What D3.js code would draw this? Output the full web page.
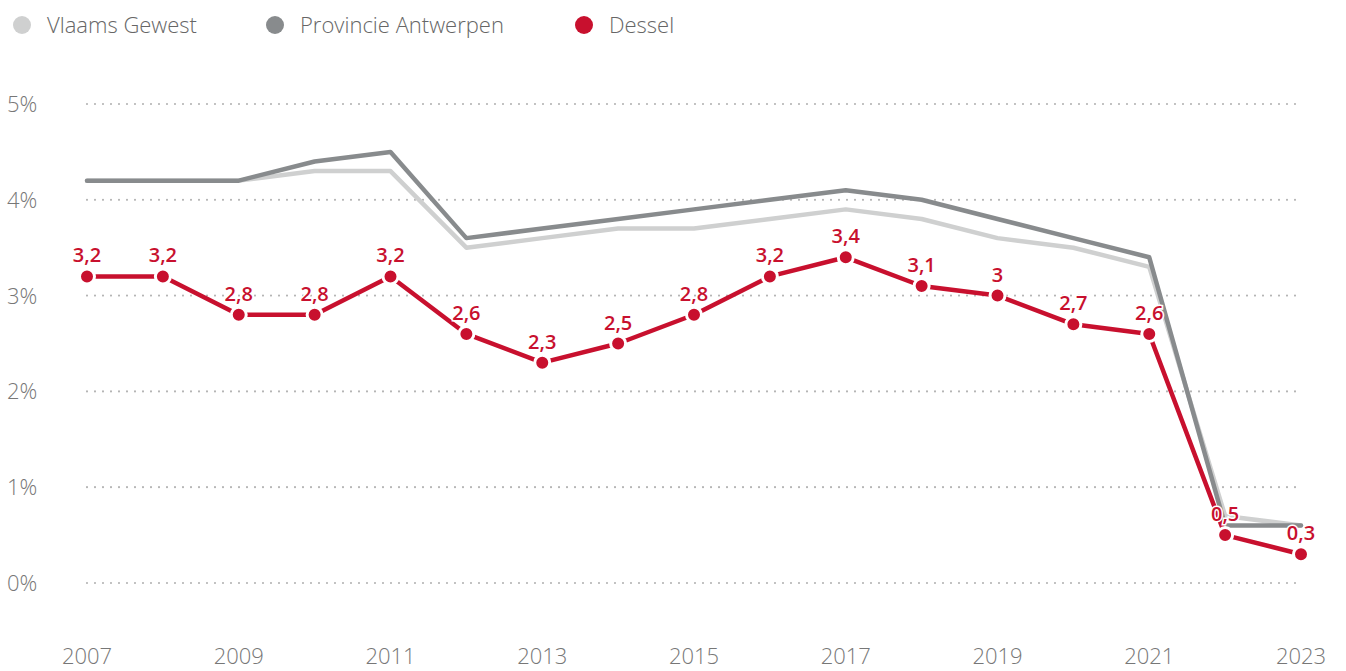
<!DOCTYPE html>
<html>
<head>
<meta charset="utf-8">
<script src="https://cdn.jsdelivr.net/npm/d3@7"></script>
<style>
  body { margin: 0; background: #fff; }
  svg { display: block; font-family: "Open Sans", Lato, sans-serif; }
</style>
</head>
<body>
<div id="chart"></div>
<script>
const years = [2007, 2008, 2009, 2010, 2011, 2012, 2013, 2014, 2015, 2016, 2017, 2018, 2019, 2020, 2021, 2022, 2023];
const vlaamsGewest = [4.2, 4.2, 4.2, 4.3, 4.3, 3.5, 3.6, 3.7, 3.7, 3.8, 3.9, 3.8, 3.6, 3.5, 3.3, 0.7, 0.6];
const provincieAntwerpen = [4.2, 4.2, 4.2, 4.4, 4.5, 3.6, 3.7, 3.8, 3.9, 4.0, 4.1, 4.0, 3.8, 3.6, 3.4, 0.6, 0.6];
const dessel = [3.2, 3.2, 2.8, 2.8, 3.2, 2.6, 2.3, 2.5, 2.8, 3.2, 3.4, 3.1, 3.0, 2.7, 2.6, 0.5, 0.3];
const xTicks = [2007, 2009, 2011, 2013, 2015, 2017, 2019, 2021, 2023];
const yTicks = [0, 1, 2, 3, 4, 5];

const seriesNames = ["Vlaams Gewest", "Provincie Antwerpen", "Dessel"];
const colors = ["#cfd0d0", "#888b8d", "#c8102e"];

const width = 1346, height = 671;

const svg = d3.select("#chart").append("svg")
  .attr("width", width)
  .attr("height", height);

const x = d3.scaleLinear().domain([2007, 2023]).range([87, 1301]);
const y = d3.scaleLinear().domain([0, 5]).range([583, 104]);

// gridlines
svg.append("g").selectAll("line")
  .data(yTicks)
  .enter()
  .append("line")
  .attr("x1", 87)
  .attr("x2", 1297)
  .attr("y1", d => y(d))
  .attr("y2", d => y(d))
  .attr("stroke", "#b5b5b5")
  .attr("stroke-width", 2.2)
  .attr("stroke-linecap", "round")
  .attr("stroke-dasharray", "0,8");

// y labels
svg.append("g").selectAll("text")
  .data(yTicks)
  .enter()
  .append("text")
  .attr("x", 7)
  .attr("y", d => y(d) + 8)
  .attr("fill", "#777")
  .attr("font-size", 22)
  .attr("font-weight", 300)
  .text(d => d + "%");

// x labels
svg.append("g").selectAll("text")
  .data(xTicks)
  .enter()
  .append("text")
  .attr("x", d => x(d))
  .attr("y", 664)
  .attr("text-anchor", "middle")
  .attr("fill", "#777")
  .attr("font-size", 22)
  .attr("font-weight", 300)
  .text(d => d);

const line = d3.line()
  .x((d, i) => x(years[i]))
  .y(d => y(d));

[vlaamsGewest, provincieAntwerpen].forEach((s, k) => {
  svg.append("path")
    .datum(s)
    .attr("d", line)
    .attr("fill", "none")
    .attr("stroke", colors[k])
    .attr("stroke-width", 4.5)
    .attr("stroke-linejoin", "round")
    .attr("stroke-linecap", "round");
});

svg.append("path")
  .datum(dessel)
  .attr("d", line)
  .attr("fill", "none")
  .attr("stroke", colors[2])
  .attr("stroke-width", 4.5)
  .attr("stroke-linejoin", "round");

// dots
svg.append("g").selectAll("circle")
  .data(dessel)
  .enter()
  .append("circle")
  .attr("cx", (d, i) => x(years[i]))
  .attr("cy", d => y(d))
  .attr("r", 7.5)
  .attr("fill", colors[2])
  .attr("stroke", "#fff")
  .attr("stroke-width", 3);

// value labels
svg.append("g").selectAll("text")
  .data(dessel)
  .enter()
  .append("text")
  .attr("x", (d, i) => x(years[i]))
  .attr("y", d => y(d) - 14)
  .attr("text-anchor", "middle")
  .attr("fill", colors[2])
  .attr("font-size", 20)
  .attr("font-weight", 600)
  .attr("stroke", "#fff")
  .attr("stroke-width", 3)
  .attr("paint-order", "stroke")
  .text(d => String(d).replace(".", ","));

// legend
const legendX = [22, 275, 584];
const legend = svg.append("g");
legend.selectAll("circle")
  .data(seriesNames)
  .enter()
  .append("circle")
  .attr("cx", (d, i) => legendX[i])
  .attr("cy", 25)
  .attr("r", 9)
  .attr("fill", (d, i) => colors[i]);

legend.selectAll("text")
  .data(seriesNames)
  .enter()
  .append("text")
  .attr("x", (d, i) => legendX[i] + 25)
  .attr("y", 33)
  .attr("fill", "#666")
  .attr("font-size", 22)
  .attr("font-weight", 300)
  .text(d => d);
</script>
</body>
</html>
